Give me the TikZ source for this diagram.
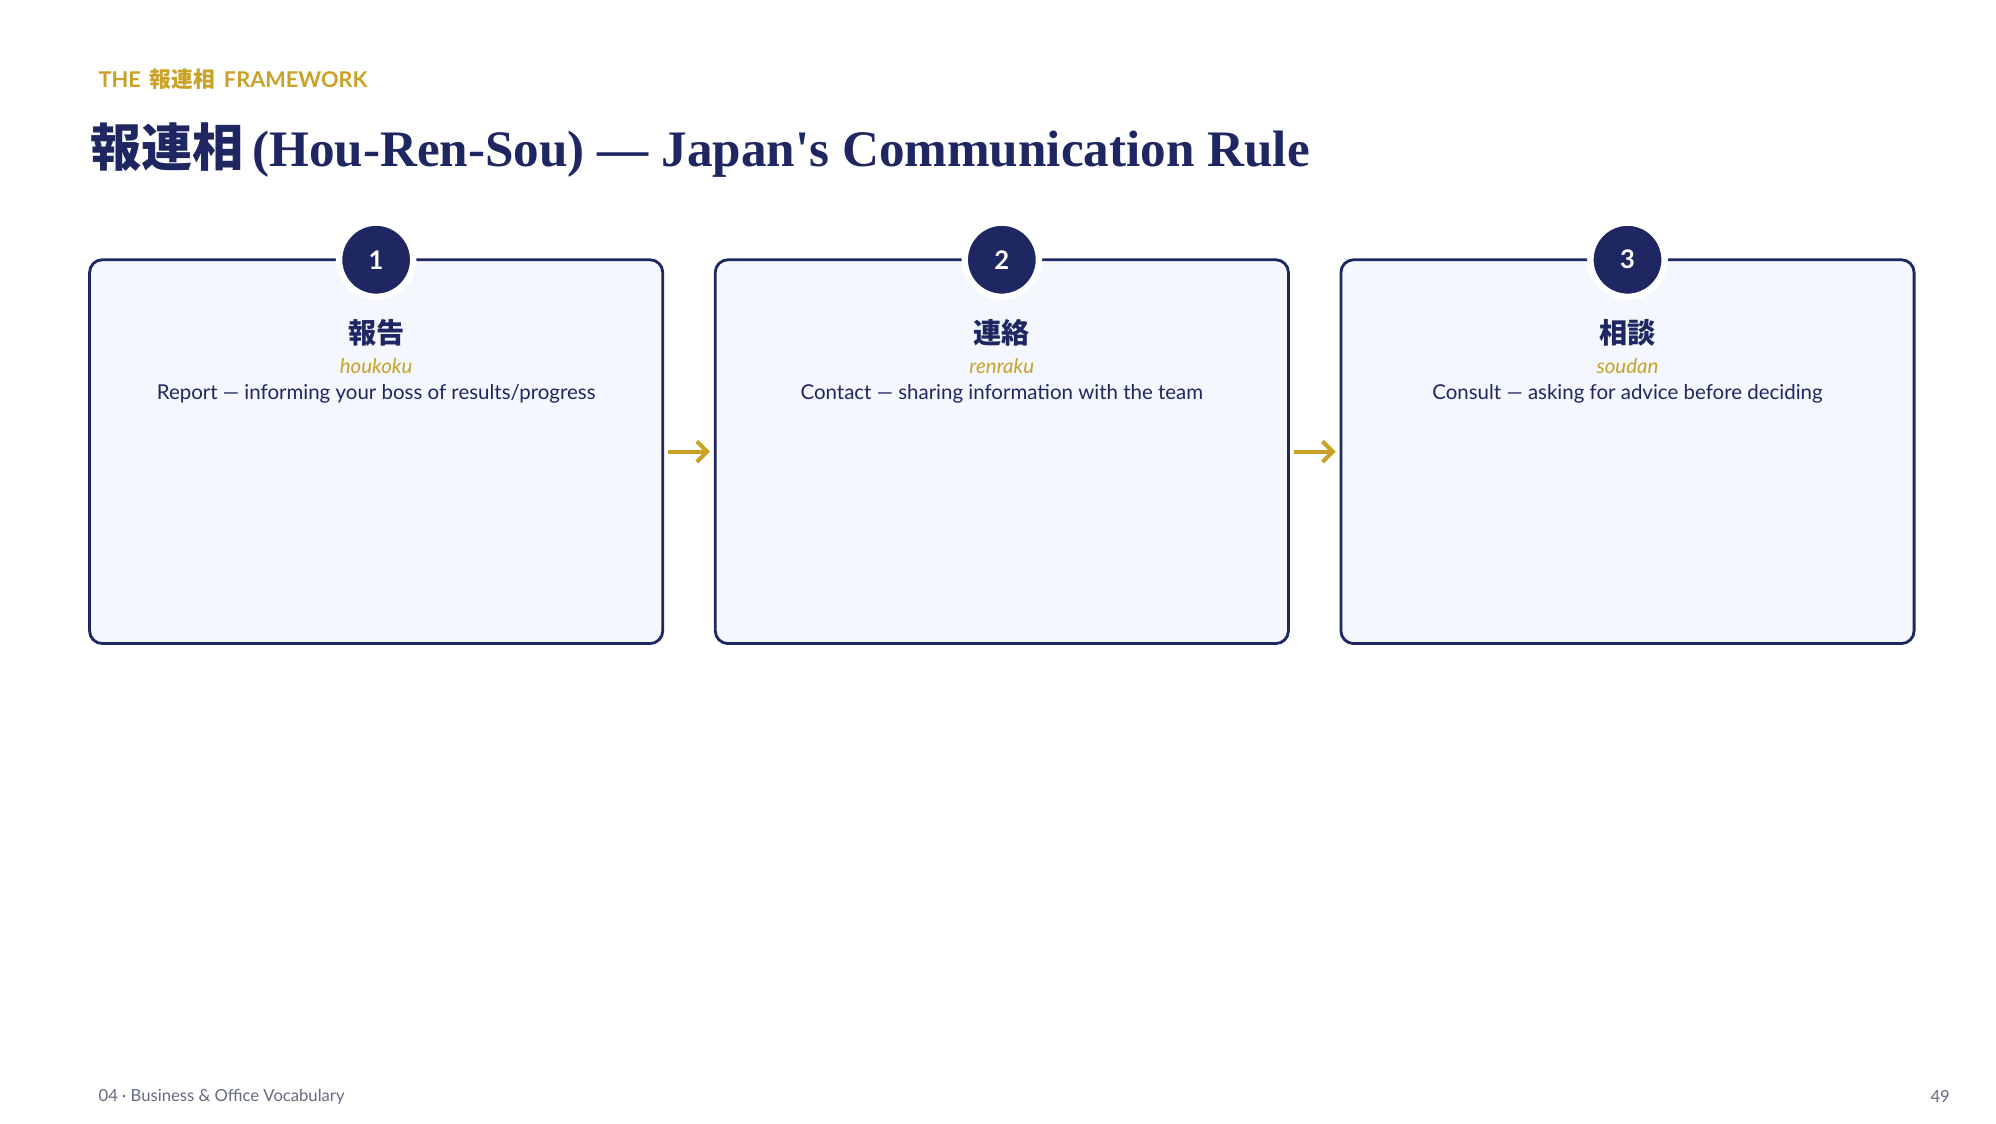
\documentclass[tikz,border=0pt]{standalone}
\usepackage{fontspec}
\setmainfont{Lato}
\newfontfamily\serifbold{Liberation Serif}
\newfontfamily\cjk{Noto Sans CJK JP}
\usetikzlibrary{arrows.meta, positioning}
\definecolor{navy}{RGB}{30,39,97}
\definecolor{gold}{RGB}{201,162,39}
\definecolor{boxfill}{RGB}{244,247,253}
\definecolor{footgray}{RGB}{100,106,130}

\tikzset{
  step box/.style={draw=navy, line width=1.1pt, fill=boxfill, rounded corners=5pt,
    minimum width=224pt, minimum height=150pt, inner sep=0pt},
  step num/.style={circle, fill=navy, draw=white, line width=2.5pt, minimum size=29pt,
    text=white, font=\bfseries\fontsize{10}{12}\selectfont},
  step kanji/.style={text=navy, font=\cjk\bfseries\fontsize{11}{13}\selectfont},
  step roma/.style={text=gold, font=\itshape\fontsize{8}{10}\selectfont},
  step desc/.style={text=navy, font=\fontsize{8}{10}\selectfont},
  flow/.style={-{Straight Barb[length=4pt,width=8pt]}, gold, line width=1.6pt}
}

\begin{document}
\begin{tikzpicture}[x=0.5pt, y=-0.5pt]
    \useasboundingbox (0,0) rectangle (1560,878);
    \fill[white] (0,0) rectangle (1560,878);

    % Header
    \node[anchor=west, text=gold, font=\bfseries\fontsize{8.5}{10}\selectfont] (kicker) at (70,62)
      {THE \,{\cjk 報連相}\, FRAMEWORK};
    \node[anchor=base west, inner sep=0pt, text=navy, font=\fontsize{20}{24}\selectfont] (title) at (70,130)
      {{\cjk\bfseries 報連相}\,{\serifbold\bfseries (Hou-Ren-Sou) — Japan's Communication Rule}};

    % Steps
    \foreach \i/\cx/\kanji/\roma/\desc in {
        1/294/報告/houkoku/{Report — informing your boss of results/progress},
        2/783/連絡/renraku/{Contact — sharing information with the team},
        3/1272/相談/soudan/{Consult — asking for advice before deciding}} {
      \node[step box] (box\i) at (\cx,353) {};
      \node[step num] (num\i) at (\cx,203) {\i};
      \node[step kanji] (kanji\i) at (\cx,260) {\kanji};
      \node[step roma] (roma\i) at (\cx,286) {\roma};
      \node[step desc] (desc\i) at (\cx,308) {\desc};
    }

    % Arrows
    \draw[flow] ([xshift=1.5pt]box1.east) -- ([xshift=-1.5pt]box2.west);
    \draw[flow] ([xshift=1.5pt]box2.east) -- ([xshift=-1.5pt]box3.west);

    % Footer
    \node[anchor=west, text=footgray, font=\fontsize{6.5}{8}\selectfont] (footer) at (70,857)
      {04 · Business \& Office Vocabulary};
    \node[anchor=east, text=footgray, font=\fontsize{6.5}{8}\selectfont] (page) at (1531,857) {49};
\end{tikzpicture}
\end{document}
